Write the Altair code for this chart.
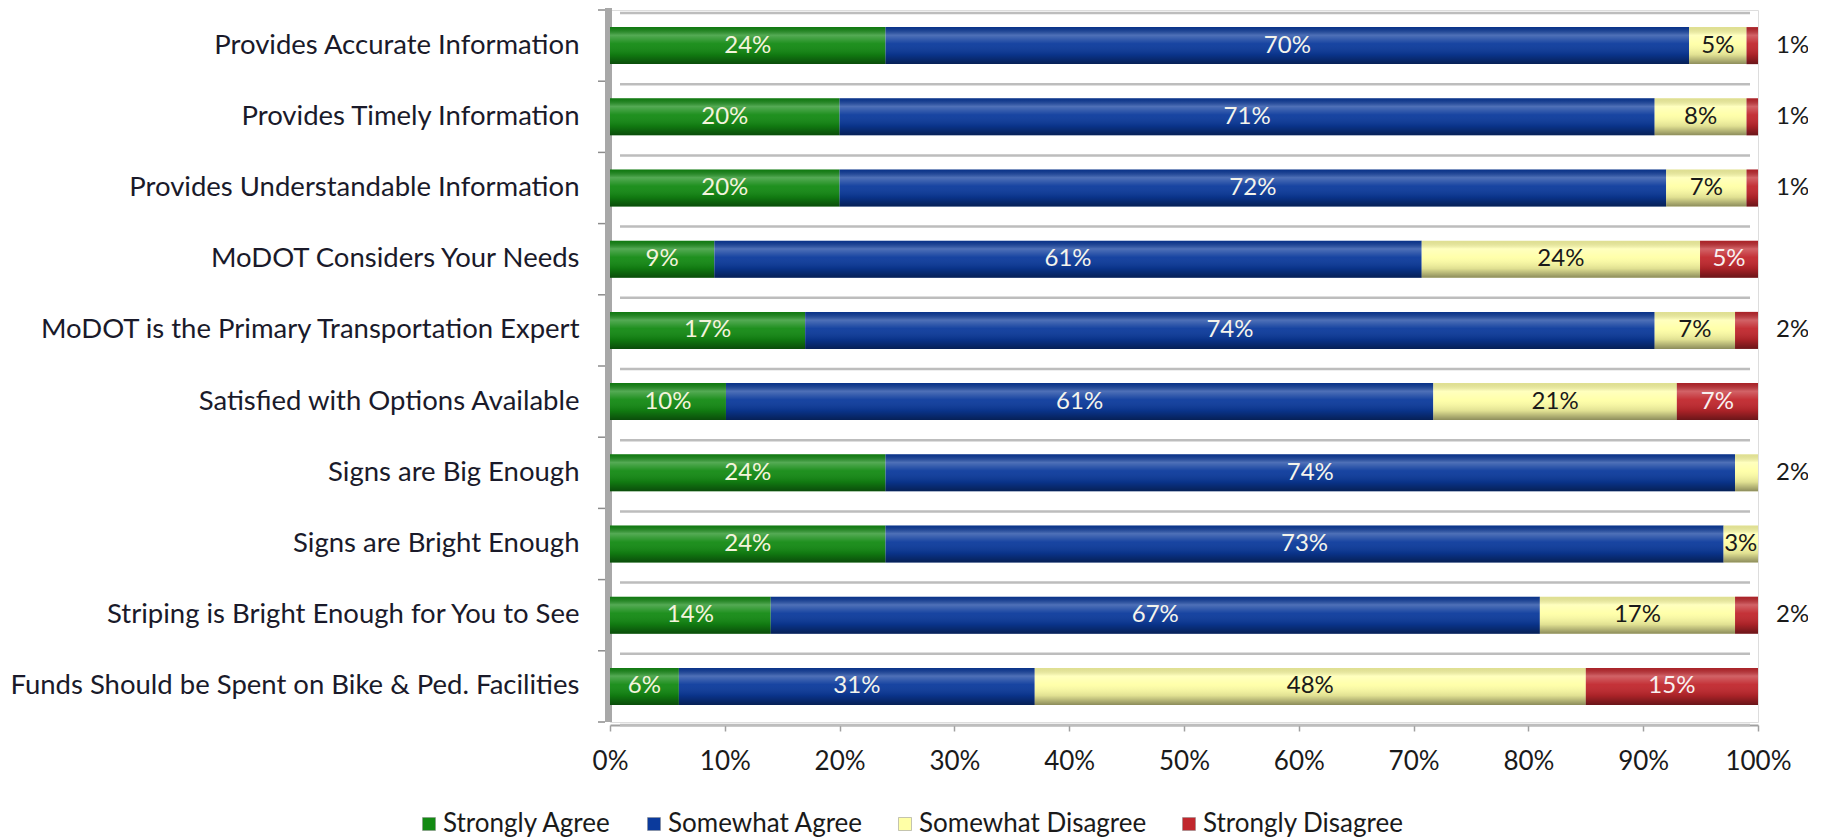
import altair as alt
import pandas as pd

questions = [
    "Provides Accurate Information",
    "Provides Timely Information",
    "Provides Understandable Information",
    "MoDOT Considers Your Needs",
    "MoDOT is the Primary Transportation Expert",
    "Satisfied with Options Available",
    "Signs are Big Enough",
    "Signs are Bright Enough",
    "Striping is Bright Enough for You to See",
    "Funds Should be Spent on Bike & Ped. Facilities",
]
categories = ["Strongly Agree", "Somewhat Agree", "Somewhat Disagree", "Strongly Disagree"]
strongly_agree = [24, 20, 20, 9, 17, 10, 24, 24, 14, 6]
somewhat_agree = [70, 71, 72, 61, 74, 61, 74, 73, 67, 31]
somewhat_disagree = [5, 8, 7, 24, 7, 21, 2, 3, 17, 48]
strongly_disagree = [1, 1, 1, 5, 2, 7, 0, 0, 2, 15]
colors = ["#138a13", "#0b3a9c", "#ffffa6", "#c1272d"]
label_colors = ["#f4f4dc", "#f4f4ec", "#1a1a1a", "#f8f0f0"]
x_ticks = [0, 0.1, 0.2, 0.3, 0.4, 0.5, 0.6, 0.7, 0.8, 0.9, 1.0]

FONT = "Lato"
W, H = 1148, 712
STEP = H / len(questions)

series = [strongly_agree, somewhat_agree, somewhat_disagree, strongly_disagree]
rows = []
for qi, q in enumerate(questions):
    vals = [s[qi] for s in series]
    total = sum(vals)
    cum = 0.0
    for ci, cat in enumerate(categories):
        v = vals[ci]
        start = cum / total
        cum += v
        end = cum / total
        rows.append({
            "q": q, "cat": cat, "value": v, "start": start, "end": end,
            "mid": (start + end) / 2, "text": f"{v}%",
            "tcolor": label_colors[ci],
            "place": "none" if v == 0 else ("out" if v <= 2 else "in"),
        })
df = pd.DataFrame(rows)
qdf = pd.DataFrame({"q": questions})

yscale = alt.Scale(domain=questions, paddingInner=0.48, paddingOuter=0.24)
xscale = alt.Scale(domain=[0, 1], nice=False, zero=True)
yaxis = alt.Axis(domain=False, ticks=False, tickSize=0, labelPadding=31,
                 labelFont=FONT, labelFontSize=27.5, labelColor="#1a1a2a",
                 labelLimit=800)
xaxis = alt.Axis(format=".0%", values=x_ticks, grid=False, offset=3,
                 domainColor="#a0a0a0", domainWidth=2, tickColor="#a0a0a0",
                 tickSize=6, tickWidth=1.5, labelPadding=17, labelFont=FONT,
                 labelFontSize=26, labelColor="#1a1a1a", labelFlush=False,
                 labelOverlap=False)


def Y():
    return alt.Y("q:N", scale=yscale, axis=yaxis, title=None)


wall = alt.Chart(qdf.head(1)).mark_rect(color="#a8a8a8").encode(
    x=alt.value(-5), x2=alt.value(2), y=alt.value(-3), y2=alt.value(H)
)

grid_top = alt.Chart(qdf).mark_rule(color="#bdbdbd", strokeWidth=2.5, yOffset=-STEP / 2 + 3).encode(
    y=Y(), x=alt.value(10), x2=alt.value(W - 8)
)
grid_bot = alt.Chart(qdf.tail(1)).mark_rule(color="#bdbdbd", strokeWidth=2.5, yOffset=STEP / 2 + 3).encode(
    y=Y(), x=alt.value(10), x2=alt.value(W - 8)
)
ticks_top = alt.Chart(qdf).mark_rule(color="#8c8c8c", strokeWidth=1.5, yOffset=-STEP / 2).encode(
    y=Y(), x=alt.value(-12), x2=alt.value(-5)
)
ticks_bot = alt.Chart(qdf.tail(1)).mark_rule(color="#8c8c8c", strokeWidth=1.5, yOffset=STEP / 2).encode(
    y=Y(), x=alt.value(-12), x2=alt.value(-5)
)

bars = alt.Chart(df).mark_bar().encode(
    y=Y(),
    x=alt.X("start:Q", scale=xscale, title=None, axis=xaxis),
    x2="end:Q",
    color=alt.Color("cat:N", scale=alt.Scale(domain=categories, range=colors),
                    legend=alt.Legend(orient="none", legendX=-194, legendY=801,
                                      direction="horizontal", title=None,
                                      symbolType="square", symbolSize=169,
                                      symbolStrokeWidth=0.5, symbolStrokeColor="#888",
                                      labelFont=FONT, labelFontSize=26,
                                      labelColor="#1a1a1a", columnPadding=29,
                                      labelOffset=1, labelLimit=400)),
)

shade = alt.Gradient(
    gradient="linear", x1=0, x2=0, y1=0, y2=1,
    stops=[
        alt.GradientStop(color="rgba(0,0,0,0.12)", offset=0),
        alt.GradientStop(color="rgba(255,255,255,0.28)", offset=0.22),
        alt.GradientStop(color="rgba(255,255,255,0.05)", offset=0.45),
        alt.GradientStop(color="rgba(0,0,0,0.12)", offset=0.75),
        alt.GradientStop(color="rgba(0,0,0,0.45)", offset=1),
    ],
)
overlay = alt.Chart(df).mark_bar(fill=shade).encode(
    y=Y(),
    x=alt.X("start:Q", scale=xscale, title=None, axis=xaxis), x2="end:Q",
)

inside = alt.Chart(df).transform_filter(alt.datum.place == "in").mark_text(
    font=FONT, fontSize=24, baseline="middle", align="center"
).encode(
    y=Y(),
    x=alt.X("mid:Q", scale=xscale, title=None, axis=xaxis),
    text="text:N",
    color=alt.Color("tcolor:N", scale=None),
)
outside = alt.Chart(df).transform_filter(alt.datum.place == "out").mark_text(
    font=FONT, fontSize=24, baseline="middle", align="left", dx=18, color="#1a1a1a"
).encode(
    y=Y(),
    x=alt.datum(1),
    text="text:N",
)

chart = alt.layer(
    wall, grid_top, grid_bot, ticks_top, ticks_bot, bars, overlay, inside, outside
).properties(
    width=W, height=H,
    autosize=alt.AutoSizeParams(type="none"),
    padding={"left": 602, "top": 2, "right": 50, "bottom": 120},
).configure_view(stroke=None).configure(background="white")

chart.save("out.html", embed_options={"renderer": "svg", "actions": False})
